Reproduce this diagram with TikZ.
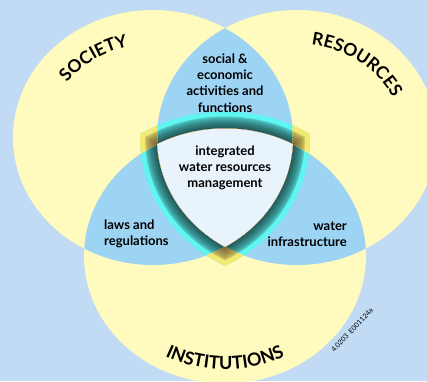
\documentclass[tikz,border=0pt]{standalone}
\usepackage{fontspec}
\setmainfont{Lato}
\usetikzlibrary{decorations.text}
\definecolor{bg}{RGB}{194,219,245}
\definecolor{yel}{RGB}{255,250,190}
\definecolor{blu}{RGB}{158,212,243}
\definecolor{core}{RGB}{232,243,252}
\definecolor{glowout}{RGB}{95,245,240}
\definecolor{glowin}{RGB}{35,90,92}
\definecolor{yglowout}{RGB}{242,234,115}
\definecolor{yglowin}{RGB}{125,105,55}
\newcommand\Lpath[1]{(153,243.5) ellipse [x radius=140+#1, y radius=127.5+#1]}
\newcommand\Rpath[1]{(297,243.5) ellipse [x radius=140+#1, y radius=127.5+#1]}
\newcommand\Bpath[1]{(225,125) ellipse [x radius=141+#1, y radius=127.5+#1]}
\tikzset{
  body/.style={font=\fontsize{13}{16.3}\selectfont\bfseries, text=black, inner sep=0pt},
  arctext/.style 2 args={decorate, decoration={text along path, text align=center,
     text={|\fontsize{#2}{#2}\selectfont\bfseries|#1}}}
}
\begin{document}
\begin{tikzpicture}[x=1pt,y=1pt]
\useasboundingbox (0,0) rectangle (427,381);
\fill[bg] (0,0) rectangle (427,381);
% circles
\fill[yel] \Lpath{0};
\fill[yel] \Rpath{0};
\fill[yel] \Bpath{0};
\begin{scope}\clip \Lpath{0}; \fill[blu] \Rpath{0};\end{scope}
\begin{scope}\clip \Lpath{0}; \fill[blu] \Bpath{0};\end{scope}
\begin{scope}\clip \Rpath{0}; \fill[blu] \Bpath{0};\end{scope}
% cyan glow
\foreach \d in {17,16,...,1}{
  \pgfmathsetmacro\p{min(100,100*sqrt(max(0,((17-\d)/16-0.25)/0.75)))}
  \begin{scope}
    \clip \Lpath{\d}; \clip \Rpath{\d};
    \fill[glowin!\p!glowout] \Bpath{\d};
  \end{scope}
}
% yellow glow at the corners
\begin{scope}[even odd rule]
  \clip \Lpath{0} \Rpath{0} \Bpath{0};
  \foreach \d in {17,16,...,1}{
    \pgfmathsetmacro\p{min(100,100*sqrt(max(0,((17-\d)/16-0.25)/0.75)))}
    \begin{scope}[nonzero rule]
      \clip \Lpath{\d}; \clip \Rpath{\d};
      \fill[yglowin!\p!yglowout] \Bpath{\d};
    \end{scope}
  }
\end{scope}
% core
\begin{scope}\clip \Lpath{0}; \clip \Rpath{0}; \fill[core] \Bpath{0};\end{scope}
% texts
\node[body, align=center] (social) at (225,298) {social \&\\economic\\activities and\\functions};
\node[body, align=center] (iwrm) at (225,213) {integrated\\water resources\\management};
\node[body, align=left, anchor=west] (laws) at (104,147) {laws and\\regulations};
\node[body, align=right, anchor=east] (infra) at (347,147) {water\\infrastructure};
\path[arctext={SOCIETY}{17.5}] (153,243.5) ++(186:106 and 93.5) arc[start angle=186, end angle=66, x radius=106, y radius=93.5];
\path[arctext={RESOURCES}{17.5}] (297,243.5) ++(112:106 and 93.5) arc[start angle=112, end angle=-8, x radius=106, y radius=93.5];
\path[arctext={INSTITUTIONS}{18}] (225,125) ++(210:127 and 113.5) arc[start angle=210, end angle=330, x radius=127, y radius=113.5];
\node[rotate=47, font=\fontsize{7}{8}\selectfont, inner sep=0pt] (code) at (352,51) {4.0203\ \ E001124a};
\end{tikzpicture}
\end{document}
